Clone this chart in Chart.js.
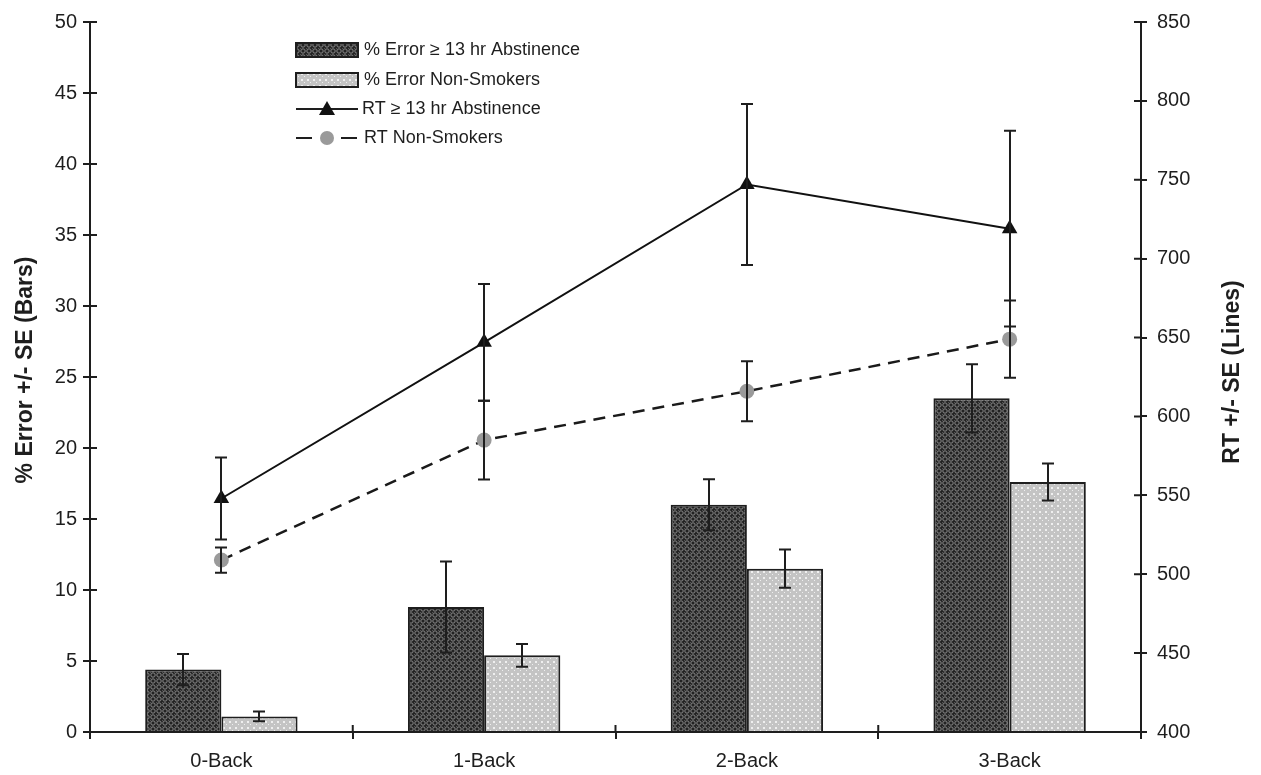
<!DOCTYPE html>
<html>
<head>
<meta charset="utf-8">
<script src="https://cdn.jsdelivr.net/npm/chart.js@4.4.1/dist/chart.umd.min.js"></script>
<style>
  body { margin: 0; background: #fff; }
  canvas { display: block; }
</style>
</head>
<body>
<canvas id="chart" width="1261" height="775"></canvas>
<script>
const categories = ['0-Back', '1-Back', '2-Back', '3-Back'];
const errAbst = [4.4, 8.8, 16.0, 23.5];
const errAbstSE = [1.1, 3.2, 1.8, 2.4];
const errNon = [1.1, 5.4, 11.5, 17.6];
const errNonSE = [0.35, 0.8, 1.35, 1.3];
const rtAbst = [548, 647, 747, 719];
const rtAbstSE = [26, 37, 51, 62];
const rtNon = [509, 585, 616, 649];
const rtNonSE = [8, 25, 19, 24.5];

const FONT = '"Liberation Sans", Arial, sans-serif';
const INK = '#1e1e1e';

function makePattern(dark) {
    const c = document.createElement('canvas');
    c.width = 6; c.height = 6;
    const p = c.getContext('2d');
    if (dark) {
        p.fillStyle = '#222';
        p.fillRect(0, 0, 6, 6);
        p.strokeStyle = '#8a8a8a';
        p.lineWidth = 1;
        p.beginPath();
        p.arc(3, 3, 2.2, 0, Math.PI * 2);
        p.stroke();
        p.fillStyle = '#555';
        p.fillRect(0, 0, 1, 1);
    } else {
        p.fillStyle = '#c4c4c4';
        p.fillRect(0, 0, 6, 6);
        p.fillStyle = '#efefef';
        p.fillRect(1, 1, 2, 2);
        p.fillRect(4, 4, 1, 1);
    }
    return p.createPattern(c, 'repeat');
}

const darkPattern = makePattern(true);
const lightPattern = makePattern(false);

const errAbstLabel = '% Error \u2265 13 hr Abstinence';
const errNonLabel = '% Error Non-Smokers';
const rtAbstLabel = 'RT \u2265 13 hr Abstinence';
const rtNonLabel = 'RT Non-Smokers';

// error bars for every dataset, drawn through the scales
const errorBars = {
    id: 'errorBars',
    afterDatasetsDraw(chart) {
        const ctx = chart.ctx;
        ctx.save();
        ctx.strokeStyle = INK;
        ctx.lineWidth = 2;
        chart.data.datasets.forEach((ds, i) => {
            const meta = chart.getDatasetMeta(i);
            const scale = chart.scales[meta.yAxisID];
            meta.data.forEach((el, j) => {
                const v = ds.data[j], se = ds.se[j];
                const yTop = scale.getPixelForValue(v + se);
                const yBot = scale.getPixelForValue(v - se);
                const x = Math.round(el.x);
                ctx.beginPath();
                ctx.moveTo(x, yTop); ctx.lineTo(x, yBot);
                ctx.moveTo(x - 6, yTop); ctx.lineTo(x + 6, yTop);
                ctx.moveTo(x - 6, yBot); ctx.lineTo(x + 6, yBot);
                ctx.stroke();
            });
        });
        ctx.restore();
    }
};

// inner half of the tick marks, axis titles and the legend
const decorations = {
    id: 'decorations',
    afterDraw(chart) {
        const ctx = chart.ctx;
        const a = chart.chartArea;
        const x = chart.scales.x, y = chart.scales.y, y1 = chart.scales.y1;
        ctx.save();
        ctx.strokeStyle = INK;
        ctx.lineWidth = 2;
        ctx.beginPath();
        y.ticks.forEach(t => {
            const py = y.getPixelForValue(t.value);
            ctx.moveTo(a.left, py); ctx.lineTo(a.left + 7, py);
        });
        y1.ticks.forEach(t => {
            const py = y1.getPixelForValue(t.value);
            ctx.moveTo(a.right, py); ctx.lineTo(a.right - 7, py);
        });
        for (let i = 0; i <= categories.length; i++) {
            const px = x.getPixelForValue(i - 0.5);
            ctx.moveTo(px, a.bottom); ctx.lineTo(px, a.bottom - 7);
        }
        ctx.stroke();

        // axis titles, both reading bottom to top
        ctx.fillStyle = INK;
        ctx.font = 'bold 23px "Liberation Sans Narrow", ' + FONT;
        ctx.textAlign = 'center';
        ctx.textBaseline = 'middle';
        [[26, 370, '% Error +/- SE (Bars)'], [1233, 372, 'RT +/- SE (Lines)']].forEach(([tx, ty, s]) => {
            ctx.save();
            ctx.translate(tx, ty);
            ctx.rotate(-Math.PI / 2);
            ctx.fillText(s, 0, 0);
            ctx.restore();
        });

        // legend
        const lx = 296, rows = [50, 80, 109, 138];
        ctx.font = '18px ' + FONT;
        ctx.textAlign = 'left';
        ctx.lineWidth = 2;
        [[darkPattern, errAbstLabel], [lightPattern, errNonLabel]].forEach(([pat, s], k) => {
            const ry = rows[k];
            ctx.fillStyle = pat;
            ctx.fillRect(lx, ry - 7, 62, 14);
            ctx.strokeStyle = INK;
            ctx.strokeRect(lx, ry - 7, 62, 14);
            ctx.fillStyle = INK;
            ctx.fillText(s, lx + 68, ry);
        });
        // solid line + triangle
        ctx.strokeStyle = INK;
        ctx.beginPath();
        ctx.moveTo(lx, rows[2]); ctx.lineTo(lx + 62, rows[2]);
        ctx.stroke();
        ctx.fillStyle = '#111';
        ctx.beginPath();
        ctx.moveTo(lx + 31, rows[2] - 8);
        ctx.lineTo(lx + 39, rows[2] + 6);
        ctx.lineTo(lx + 23, rows[2] + 6);
        ctx.closePath();
        ctx.fill();
        ctx.fillStyle = INK;
        ctx.fillText(rtAbstLabel, lx + 66, rows[2]);
        // dashed line + circle
        ctx.beginPath();
        ctx.moveTo(lx, rows[3]); ctx.lineTo(lx + 16, rows[3]);
        ctx.moveTo(lx + 45, rows[3]); ctx.lineTo(lx + 61, rows[3]);
        ctx.stroke();
        ctx.fillStyle = '#9a9a9a';
        ctx.beginPath();
        ctx.arc(lx + 31, rows[3], 7, 0, Math.PI * 2);
        ctx.fill();
        ctx.fillStyle = INK;
        ctx.fillText(rtNonLabel, lx + 68, rows[3]);
        ctx.restore();
    }
};

const tickFont = { family: FONT, size: 20 };

new Chart(document.getElementById('chart'), {
    type: 'bar',
    data: {
        labels: categories,
        datasets: [
            {
                type: 'line', label: rtAbstLabel, data: rtAbst, se: rtAbstSE, yAxisID: 'y1', order: 0,
                borderColor: '#111', borderWidth: 2, pointStyle: 'triangle', pointRadius: 9,
                pointBackgroundColor: '#111', pointBorderWidth: 0, tension: 0
            },
            {
                type: 'line', label: rtNonLabel, data: rtNon, se: rtNonSE, yAxisID: 'y1', order: 0,
                borderColor: '#1a1a1a', borderWidth: 2.5, borderDash: [12, 8], pointStyle: 'circle',
                pointRadius: 7.5, pointBackgroundColor: '#9a9a9a', pointBorderWidth: 0, tension: 0
            },
            {
                label: errAbstLabel, data: errAbst, se: errAbstSE, yAxisID: 'y', order: 1,
                backgroundColor: darkPattern, borderColor: INK, borderWidth: 2,
                categoryPercentage: 0.58, barPercentage: 1.0
            },
            {
                label: errNonLabel, data: errNon, se: errNonSE, yAxisID: 'y', order: 1,
                backgroundColor: lightPattern, borderColor: INK, borderWidth: 2,
                categoryPercentage: 0.58, barPercentage: 1.0
            }
        ]
    },
    options: {
        responsive: false,
        animation: false,
        layout: { padding: { top: 18 } },
        plugins: { legend: { display: false }, tooltip: { enabled: false } },
        scales: {
            x: {
                offset: true,
                grid: { offset: true, drawOnChartArea: false, tickLength: 7, color: INK, lineWidth: 2 },
                border: { color: INK, width: 2 },
                ticks: { color: INK, font: tickFont, padding: 10 },
                afterFit: s => { s.height = 43; }
            },
            y: {
                position: 'left', min: 0, max: 50,
                ticks: { stepSize: 5, color: INK, font: tickFont, padding: 6 },
                grid: { drawOnChartArea: false, tickLength: 7, color: INK, lineWidth: 2 },
                border: { color: INK, width: 2 },
                afterFit: s => { s.width = 90; }
            },
            y1: {
                position: 'right', min: 400, max: 850,
                ticks: { stepSize: 50, color: INK, font: tickFont, padding: 10 },
                grid: { drawOnChartArea: false, tickLength: 6, color: INK, lineWidth: 2 },
                border: { color: INK, width: 2 },
                afterFit: s => { s.width = 120; }
            }
        }
    },
    plugins: [errorBars, decorations]
});
</script>
</body>
</html>
